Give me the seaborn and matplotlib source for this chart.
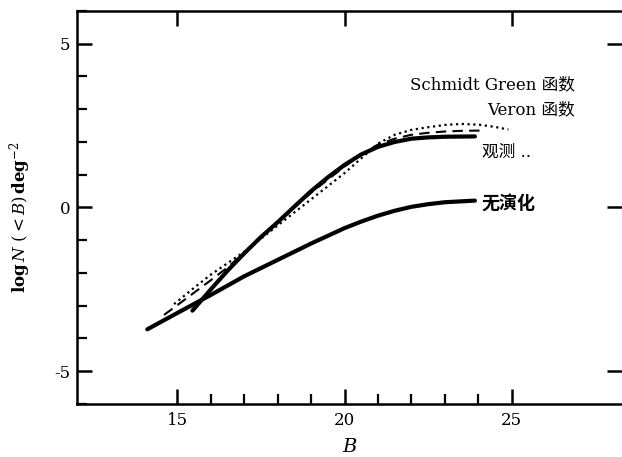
import numpy as np
import pandas as pd
import seaborn as sns
import matplotlib.pyplot as plt
from matplotlib.ticker import MultipleLocator, FixedLocator

# observed counts (观测)
obs_B = [15.45, 16.0, 16.5, 17.0, 17.5, 18.0, 18.5, 19.0, 19.5, 20.0, 20.5, 21.0, 21.5, 22.0, 22.5, 23.0, 23.9]
obs_logN = [-3.15, -2.5, -1.93, -1.4, -0.9, -0.45, 0.03, 0.5, 0.92, 1.3, 1.62, 1.85, 2.0, 2.1, 2.14, 2.16, 2.17]

# no evolution (无演化)
noev_B = [14.1, 15.0, 16.0, 17.0, 18.0, 19.0, 20.0, 20.5, 21.0, 21.5, 22.0, 22.5, 23.0, 23.9]
noev_logN = [-3.72, -3.22, -2.67, -2.1, -1.6, -1.1, -0.63, -0.43, -0.25, -0.1, 0.02, 0.1, 0.16, 0.21]

# Schmidt Green function (dotted)
sg_B = [14.9, 15.5, 16.0, 17.0, 18.0, 18.5, 19.0, 19.5, 20.0, 20.5, 21.0, 21.5, 22.0, 22.5, 23.0, 23.5, 24.0, 24.5, 24.9]
sg_logN = [-2.95, -2.45, -2.05, -1.35, -0.55, -0.15, 0.25, 0.65, 1.05, 1.5, 1.95, 2.22, 2.37, 2.45, 2.52, 2.55, 2.53, 2.46, 2.38]

# Veron function (dashed)
ver_B = [14.6, 15.0, 15.5, 16.0, 16.5, 17.0, 18.0, 19.0, 20.0, 20.5, 21.0, 21.5, 22.0, 22.5, 23.0, 23.5, 24.2]
ver_logN = [-3.28, -2.98, -2.6, -2.22, -1.83, -1.38, -0.45, 0.45, 1.25, 1.62, 1.92, 2.1, 2.22, 2.28, 2.32, 2.34, 2.35]

sns.set_style("ticks")
plt.rcParams['font.family'] = ['DejaVu Serif', 'Noto Sans CJK SC']
plt.rcParams['mathtext.fontset'] = 'dejavuserif'
for k in ['text.color', 'axes.labelcolor', 'xtick.color', 'ytick.color', 'axes.edgecolor']:
    plt.rcParams[k] = 'black'

fig = plt.figure(figsize=(6.22, 4.57), dpi=100)
ax = fig.add_axes([0.124, 0.116, 0.876, 0.86])

sns.lineplot(x=sg_B, y=sg_logN, ax=ax, color='black', lw=1.6, linestyle=(0, (1, 1.6)))
sns.lineplot(x=ver_B, y=ver_logN, ax=ax, color='black', lw=1.5, linestyle=(0, (5, 3)))
sns.lineplot(x=obs_B, y=obs_logN, ax=ax, color='black', lw=3)
sns.lineplot(x=noev_B, y=noev_logN, ax=ax, color='black', lw=3)

ax.set_xlim(12, 28.3)
ax.set_ylim(-6, 6)

ax.xaxis.set_major_locator(FixedLocator([15, 20, 25]))
ax.xaxis.set_minor_locator(FixedLocator([16, 17, 18, 19, 21, 22, 23, 24]))
ax.yaxis.set_major_locator(FixedLocator([-5, 0, 5]))
ax.yaxis.set_minor_locator(MultipleLocator(1))
ax.set_yticklabels(['-5', '0', '5'])

ax.tick_params(which='major', direction='in', length=11, width=1.8,
               top=True, right=True, labelsize=12)
ax.tick_params(which='minor', direction='in', length=7, width=1.6)
ax.tick_params(axis='x', which='minor', top=False)
ax.tick_params(axis='y', which='minor', right=False)
ax.tick_params(axis='x', pad=6)
ax.tick_params(axis='y', pad=5)

for s in ['left', 'bottom', 'top']:
    ax.spines[s].set_linewidth(1.8)
ax.spines['right'].set_visible(False)

ax.set_xlabel('$B$', fontsize=14, labelpad=6)
ax.set_ylabel('')
fig.text(0.032, 0.525, r'$\mathbf{log}\,N\ (<B)\,\mathbf{deg}^{-2}$',
         rotation=90, ha='center', va='center', fontsize=12)

ax.text(26.9, 3.74, 'Schmidt Green 函数', ha='right', va='center', fontsize=12)
ax.text(26.9, 2.98, 'Veron 函数', ha='right', va='center', fontsize=12)
ax.text(24.1, 1.69, '观测 ..', ha='left', va='center', fontsize=12)
ax.text(24.1, 0.09, '无演化', ha='left', va='center', fontsize=13, fontweight='bold')

fig.savefig('out.png', dpi=100)
